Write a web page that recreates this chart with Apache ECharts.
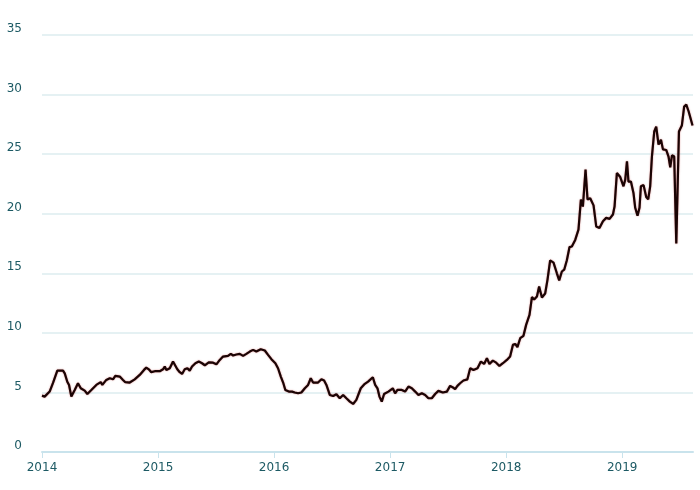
<!DOCTYPE html>
<html>
<head>
<meta charset="utf-8">
<script src="https://cdn.jsdelivr.net/npm/echarts@6/dist/echarts.min.js"></script>
<style>html,body{margin:0;padding:0;background:#fff;}#c{width:700px;height:490px;}</style>
</head>
<body>
<div id="c"></div>
<script>
// decimal years
const years = [
2014.000,2014.023,2014.066,2014.095,2014.132,2014.181,2014.196,2014.218,2014.233,2014.253,
2014.282,2014.310,2014.334,2014.368,2014.391,2014.425,2014.468,2014.506,2014.520,2014.554,
2014.584,2014.612,2014.632,2014.670,2014.698,2014.718,2014.756,2014.799,2014.842,2014.879,
2014.899,2014.920,2014.942,2014.972,2015.015,2015.043,2015.058,2015.072,2015.101,2015.129,
2015.144,2015.166,2015.187,2015.207,2015.230,2015.253,2015.273,2015.293,2015.322,2015.351,
2015.379,2015.403,2015.437,2015.474,2015.503,2015.532,2015.560,2015.603,2015.627,2015.647,
2015.675,2015.704,2015.733,2015.761,2015.791,2015.819,2015.847,2015.885,2015.920,2015.948,
2015.977,2016.011,2016.034,2016.058,2016.078,2016.097,2016.127,2016.155,2016.178,2016.207,
2016.235,2016.265,2016.293,2016.316,2016.336,2016.379,2016.408,2016.431,2016.451,2016.480,
2016.509,2016.537,2016.566,2016.595,2016.623,2016.653,2016.681,2016.709,2016.747,2016.782,
2016.810,2016.822,2016.851,2016.871,2016.891,2016.908,2016.928,2016.948,2016.985,2017.023,
2017.043,2017.063,2017.101,2017.129,2017.158,2017.187,2017.216,2017.244,2017.273,2017.302,
2017.330,2017.359,2017.388,2017.416,2017.454,2017.489,2017.517,2017.541,2017.560,2017.580,
2017.603,2017.632,2017.666,2017.690,2017.718,2017.753,2017.782,2017.810,2017.834,2017.856,
2017.885,2017.914,2017.942,2017.972,2018.006,2018.034,2018.058,2018.078,2018.097,2018.121,
2018.149,2018.172,2018.201,2018.222,2018.241,2018.265,2018.284,2018.308,2018.336,2018.356,
2018.379,2018.408,2018.437,2018.457,2018.480,2018.500,2018.523,2018.546,2018.566,2018.595,
2018.623,2018.644,2018.661,2018.684,2018.701,2018.724,2018.753,2018.776,2018.804,2018.834,
2018.862,2018.891,2018.920,2018.934,2018.954,2018.983,2019.011,2019.026,2019.041,2019.054,
2019.075,2019.097,2019.112,2019.132,2019.149,2019.161,2019.184,2019.207,2019.224,2019.241,
2019.256,2019.276,2019.293,2019.313,2019.334,2019.351,2019.379,2019.399,2019.414,2019.429,
2019.448,2019.466,2019.489,2019.514,2019.534,2019.552,2019.572,2019.586,2019.606
];
const values = [
4.73,4.65,5.07,5.80,6.83,6.83,6.60,5.90,5.63,4.65,
5.20,5.77,5.35,5.15,4.87,5.20,5.63,5.86,5.63,6.05,
6.19,6.10,6.39,6.33,6.05,5.86,5.83,6.10,6.47,6.89,
7.08,6.94,6.70,6.78,6.78,6.94,7.17,6.89,7.03,7.59,
7.45,6.94,6.70,6.55,6.94,7.03,6.83,7.17,7.45,7.59,
7.45,7.28,7.53,7.50,7.36,7.73,8.01,8.07,8.24,8.10,
8.18,8.24,8.07,8.24,8.43,8.57,8.43,8.63,8.52,8.15,
7.79,7.45,7.03,6.33,5.83,5.20,5.07,5.07,4.99,4.93,
4.99,5.35,5.63,6.19,5.83,5.83,6.10,6.00,5.63,4.79,
4.70,4.85,4.51,4.79,4.51,4.23,4.03,4.37,5.35,5.72,
5.91,6.05,6.27,5.63,5.35,4.65,4.23,4.87,5.07,5.35,
4.93,5.21,5.21,5.07,5.49,5.35,5.07,4.79,4.93,4.79,
4.51,4.51,4.87,5.13,4.99,5.07,5.55,5.42,5.27,5.55,
5.77,6.00,6.10,7.03,6.89,7.03,7.59,7.39,7.87,7.39,
7.67,7.50,7.22,7.45,7.73,8.01,8.99,9.07,8.80,9.55,
9.75,10.67,11.51,13.00,12.80,13.05,13.89,12.97,13.30,14.45,
16.08,15.90,15.00,14.40,15.15,15.30,16.10,17.20,17.25,17.80,
18.66,21.18,20.60,23.70,21.20,21.30,20.70,18.93,18.80,19.37,
19.65,19.57,19.93,20.60,23.42,23.08,22.30,22.85,24.40,22.70,
22.70,21.74,20.50,19.83,20.50,22.30,22.40,21.40,21.20,22.30,
24.80,26.90,27.30,25.80,26.20,25.40,25.35,24.80,23.90,24.90,
24.80,17.50,26.90,27.40,29.00,29.15,28.60,28.70,27.40
];
const yearTicks = [2014, 2015, 2016, 2017, 2018, 2019];
const yTicks = [0, 5, 10, 15, 20, 25, 30, 35];

const data = years.map((y, i) => [y, values[i]]);
const chart = echarts.init(document.getElementById('c'), null, {renderer: 'canvas'});
const labelColor = '#1d5a64';
chart.setOption({
  animation: false,
  grid: {left: 42, right: 7, top: 35, bottom: 38, containLabel: false},
  xAxis: {
    type: 'value', min: 2014, max: 2019.61,
    axisLine: {show: true, lineStyle: {color: '#c9e3ec', width: 2}},
    axisTick: {show: true, customValues: yearTicks, length: 6, lineStyle: {color: '#c9e3ec', width: 1}},
    axisLabel: {customValues: yearTicks, color: labelColor, fontFamily: 'DejaVu Sans', fontSize: 12, margin: 10,
      formatter: v => String(Math.round(v))},
    splitLine: {show: false}
  },
  yAxis: {
    type: 'value', min: 0, max: 35, interval: 5,
    axisLine: {show: false}, axisTick: {show: false},
    axisLabel: {color: labelColor, fontFamily: 'DejaVu Sans', fontSize: 12, margin: 20, verticalAlign: 'bottom',
      formatter: v => yTicks.includes(v) ? String(v) : ''},
    splitLine: {lineStyle: {color: '#dcecef', width: 1.5}}
  },
  series: [{
    type: 'line', data: data, showSymbol: false, smooth: false,
    lineStyle: {color: '#1a0404', width: 2.2, shadowColor: 'rgba(170,0,0,0.55)', shadowBlur: 1.5}
  }]
});
</script>
</body>
</html>
